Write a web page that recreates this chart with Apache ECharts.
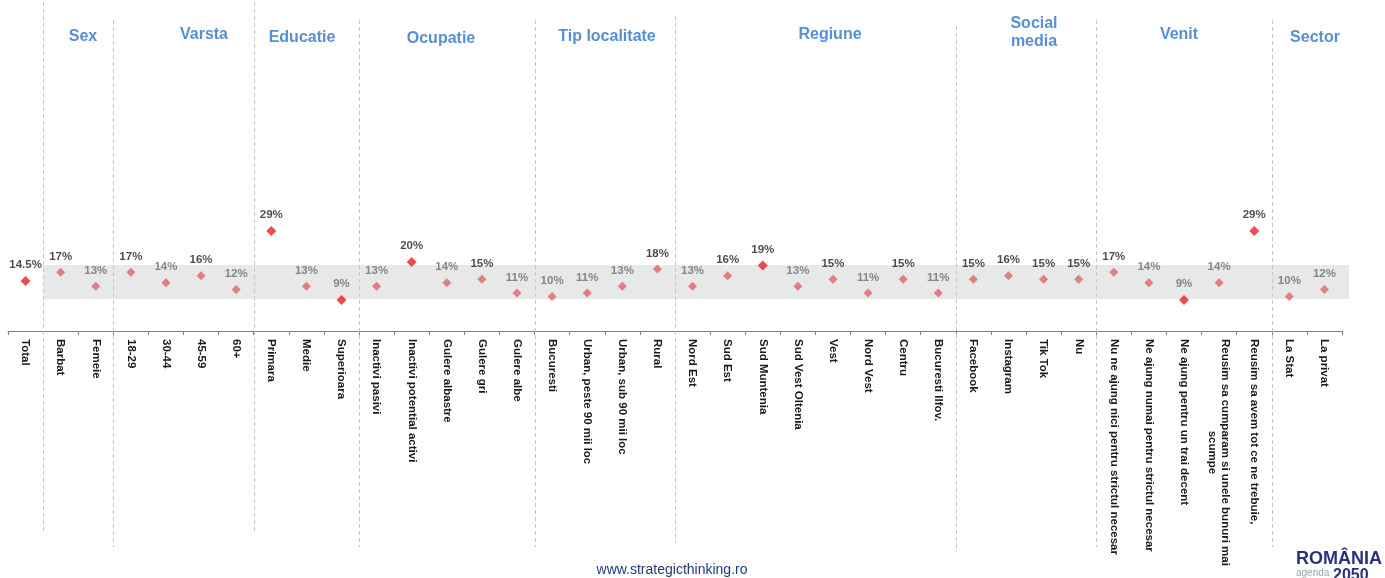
<!DOCTYPE html>
<html>
<head>
<meta charset="utf-8">
<script src="https://cdn.jsdelivr.net/npm/echarts@6/dist/echarts.min.js"></script>
<style>
  html, body { margin: 0; padding: 0; background: #ffffff; }
  #chart { width: 1385px; height: 578px; }
</style>
</head>
<body>
<div id="chart"></div>
<script>
// Segment labels along the horizontal axis
const categories = [
  'Total',
  'Barbat', 'Femeie',
  '18-29', '30-44', '45-59', '60+',
  'Primara', 'Medie', 'Superioara',
  'Inactivi pasivi', 'Inactivi potential activi', 'Gulere albastre', 'Gulere gri', 'Gulere albe',
  'Bucuresti', 'Urban, peste 90 mii loc', 'Urban, sub 90 mii loc', 'Rural',
  'Nord Est', 'Sud Est', 'Sud Muntenia', 'Sud Vest Oltenia', 'Vest', 'Nord Vest', 'Centru', 'Bucuresti Ilfov.',
  'Facebook', 'Instagram', 'Tik Tok', 'Nu',
  'Nu ne ajung nici pentru strictul necesar', 'Ne ajung numai pentru strictul necesar',
  'Ne ajung pentru un trai decent', 'Reusim sa cumparam si unele bunuri mai\nscumpe',
  'Reusim sa avem tot ce ne trebuie,',
  'La Stat', 'La privat'
];

// Share per segment (%)
const values = [
  14.5,
  17, 13,
  17, 14, 16, 12,
  29, 13, 9,
  13, 20, 14, 15, 11,
  10, 11, 13, 18,
  13, 16, 19, 13, 15, 11, 15, 11,
  15, 16, 15, 15,
  17, 14, 9, 14, 29,
  10, 12
];

// Segments that differ significantly from the total
const significant = [
  'Total', 'Primara', 'Superioara', 'Inactivi potential activi', 'Sud Muntenia',
  'Ne ajung pentru un trai decent', 'Reusim sa avem tot ce ne trebuie,'
];

// Breakdown groups (after the Total column) and how many segments each holds
const groupNames = ['Sex', 'Varsta', 'Educatie', 'Ocupatie', 'Tip localitate', 'Regiune', 'Social\nmedia', 'Venit', 'Sector'];
const groupSizes = [2, 4, 3, 5, 4, 8, 4, 5, 2];

// Range of the shaded reference band (%)
const bandRange = [9.3, 19.1];

const FONT = "'Liberation Sans', Arial, sans-serif";
const totalValue = values[0];

// First segment index of every group -> dashed separators sit just before them
const groupStarts = [];
let idx = 1;
groupSizes.forEach(n => { groupStarts.push(idx); idx += n; });

// Vertical reach of each separator (px)
const sepTop = [2, 20, 2, 20, 20, 16, 26, 20, 20];
const sepBottom = [533, 547, 533, 547, 547, 543, 552, 547, 547];

// Group heading placement (px)
const headingPos = [[83, 37], [204, 35], [302, 38], [441, 39], [607, 37], [830, 35], [1034, 33], [1179, 35], [1315, 38]];

const chart = echarts.init(document.getElementById('chart'), null, { renderer: 'canvas' });

const pointData = values.map((v, i) => {
  const sig = significant.indexOf(categories[i]) >= 0;
  return {
    value: v,
    symbolSize: sig ? 10 : 9,
    itemStyle: { color: sig ? '#ee1c25' : '#e0626a' },
    label: { color: v >= totalValue ? '#1e1e1e' : '#6b6b6b' }
  };
});

const option = {
  animation: false,
  backgroundColor: '#ffffff',
  grid: { left: 8, right: 43, top: 55, bottom: 247, containLabel: false },
  xAxis: {
    type: 'category',
    data: categories,
    boundaryGap: true,
    axisLine: { show: true, lineStyle: { color: '#808080', width: 1 } },
    axisTick: { show: true, length: 4, lineStyle: { color: '#808080' } },
    splitLine: { show: false },
    axisLabel: {
      interval: 0,
      rotate: -90,
      margin: 8,
      fontFamily: FONT,
      fontSize: 11.5,
      fontWeight: 'bold',
      color: '#1a1a1a',
      lineHeight: 13,
      formatter: function (val) {
        const parts = val.split('\n');
        if (parts.length === 1) return val;
        return '{a|' + parts[0] + '}\n{b|' + parts[1] + '}';
      },
      rich: {
        a: { fontFamily: FONT, fontSize: 11.5, fontWeight: 'bold', color: '#1a1a1a', lineHeight: 13 },
        b: { fontFamily: FONT, fontSize: 11.5, fontWeight: 'bold', color: '#1a1a1a', lineHeight: 13, align: 'center' }
      }
    }
  },
  yAxis: { type: 'value', min: 0, max: 80, show: false },
  series: [
    {
      // shaded reference band
      type: 'custom',
      z: 1,
      silent: true,
      clip: false,
      encode: { x: [0, 2], y: [1, 3] },
      data: [[1, bandRange[0], categories.length - 1, bandRange[1]]],
      renderItem: function (params, api) {
        const bw = api.size([1, 0])[0];
        const pLow = api.coord([api.value(0), api.value(1)]);
        const pHigh = api.coord([api.value(2), api.value(3)]);
        const x1 = pLow[0] - bw / 2;
        const x2 = pHigh[0] + bw / 2 + 7;
        return {
          type: 'rect',
          shape: { x: x1, y: pHigh[1], width: x2 - x1, height: pLow[1] - pHigh[1] },
          style: { fill: '#e7e8e8' }
        };
      }
    },
    {
      // dashed separators between groups
      type: 'custom',
      z: 2,
      silent: true,
      clip: false,
      encode: { x: 0, y: 1 },
      data: groupStarts.map(s => [s, 0]),
      renderItem: function (params, api) {
        const bw = api.size([1, 0])[0];
        const x = Math.round(api.coord([api.value(0), 0])[0] - bw / 2) + 0.5;
        const k = params.dataIndex;
        return {
          type: 'line',
          shape: { x1: x, y1: sepTop[k], x2: x, y2: sepBottom[k] },
          style: { stroke: '#c6c6c6', lineWidth: 1, lineDash: [4, 3] }
        };
      }
    },
    {
      type: 'scatter',
      z: 5,
      symbol: 'diamond',
      data: pointData,
      label: {
        show: true,
        position: 'top',
        distance: 5,
        fontFamily: FONT,
        fontSize: 11.5,
        fontWeight: 'bold',
        formatter: function (p) {
          const v = p.value;
          return (Number.isInteger(v) ? v : v.toFixed(1)) + '%';
        }
      }
    }
  ],
  graphic: [
    ...groupNames.map((name, i) => ({
      type: 'text',
      x: headingPos[i][0],
      y: headingPos[i][1],
      silent: true,
      style: {
        text: name,
        fontFamily: FONT,
        fontSize: 16,
        fontWeight: 'bold',
        fill: '#568fd4',
        align: 'center',
        verticalAlign: 'middle',
        lineHeight: 18
      }
    })),
    {
      type: 'text',
      x: 672, y: 570,
      silent: true,
      style: {
        text: 'www.strategicthinking.ro',
        fontFamily: FONT, fontSize: 14, fill: '#1f3c74',
        align: 'center', verticalAlign: 'middle'
      }
    },
    {
      type: 'text',
      x: 1339, y: 559,
      silent: true,
      style: {
        text: 'ROMÂNIA',
        fontFamily: FONT, fontSize: 18, fontWeight: 'bold', fill: '#2c2f7c',
        align: 'center', verticalAlign: 'middle'
      }
    },
    {
      type: 'text',
      x: 1296, y: 573,
      silent: true,
      style: {
        text: 'agenda',
        fontFamily: FONT, fontSize: 10, fill: '#9aa5ab',
        align: 'left', verticalAlign: 'middle'
      }
    },
    {
      type: 'text',
      x: 1333, y: 576,
      silent: true,
      style: {
        text: '2050',
        fontFamily: FONT, fontSize: 16, fontWeight: 'bold', fill: '#2c2f7c',
        align: 'left', verticalAlign: 'middle'
      }
    }
  ]
};

chart.setOption(option);
</script>
</body>
</html>
